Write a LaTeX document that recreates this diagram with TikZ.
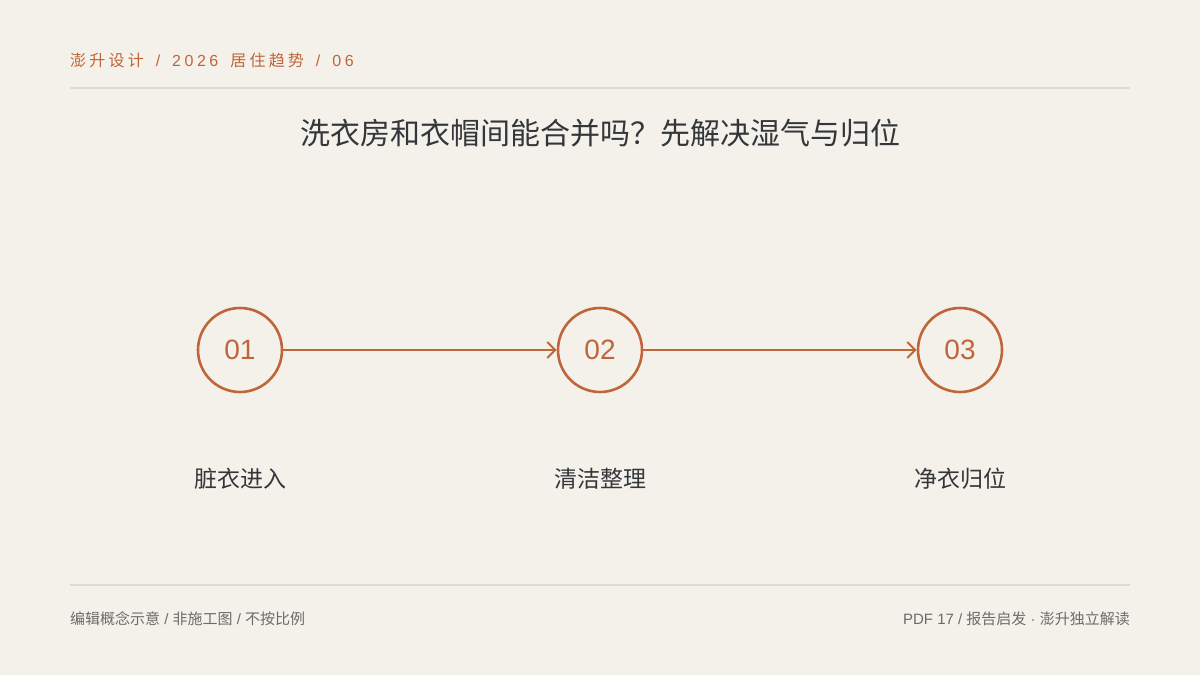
\documentclass[tikz,border=0pt]{standalone}
\usepackage{fontspec}
\setmainfont{Liberation Sans}
\newfontfamily\cjk{Noto Sans CJK SC}
\newfontfamily\cjksp[LetterSpace=20]{Noto Sans CJK SC}
\newfontfamily\latsp[LetterSpace=22]{Liberation Sans}
\usetikzlibrary{arrows.meta}
\definecolor{bg}{HTML}{F4F1EA}
\definecolor{accent}{HTML}{C0653A}
\definecolor{rule}{HTML}{DEDAD3}
\definecolor{ink}{HTML}{33373A}
\definecolor{muted}{HTML}{6B6B68}
\newcommand\cj[1]{{\cjk #1}}
\newcommand\hsp{\hspace{12pt}}
\tikzset{
  stepcircle/.style={circle,draw=accent,line width=2.6pt,minimum size=84pt,inner sep=0pt,
    text=accent,font=\fontsize{28}{30}\selectfont},
  steplabel/.style={text=ink,font=\cjk\fontsize{23}{25}\selectfont,inner sep=0pt},
  flow/.style={draw=accent,line width=2.8pt,-{Straight Barb[length=8pt,width=16pt,line width=2pt]}},
  hrule/.style={draw=rule,line width=2pt},
  foot/.style={text=muted,font=\fontsize{15}{17}\selectfont,inner sep=0pt}
}
\begin{document}
\begin{tikzpicture}[x=1pt,y=-1pt]
\fill[bg] (0,0) rectangle (1200,675);
\useasboundingbox (0,0) rectangle (1200,675);
\node[anchor=west,inner sep=0pt,text=accent,font=\fontsize{16}{18}\selectfont] (hdr) at (70,60)
  {{\cjksp 澎升设计}\hsp{\latsp /}\hsp{\latsp 2026}\hsp{\cjksp 居住趋势}\hsp{\latsp /}\hsp{\latsp 06}};
\coordinate (t1) at (70,88); \coordinate (t2) at (1130,88);
\draw[hrule] (t1) -- (t2);
\node[inner sep=0pt,text=ink,font=\cjk\fontsize{30}{32}\selectfont] (title) at (600,133) {洗衣房和衣帽间能合并吗？先解决湿气与归位};
\node[stepcircle] (c1) at (240,350) {01};
\node[stepcircle] (c2) at (600,350) {02};
\node[stepcircle] (c3) at (960,350) {03};
\draw[flow] (c1) -- (c2);
\draw[flow] (c2) -- (c3);
\node[steplabel] (l1) at (240,479) {脏衣进入};
\node[steplabel] (l2) at (600,479) {清洁整理};
\node[steplabel] (l3) at (960,479) {净衣归位};
\coordinate (b1) at (70,585); \coordinate (b2) at (1130,585);
\draw[hrule] (b1) -- (b2);
\node[foot,anchor=west] (f1) at (70,619) {\cj{编辑概念示意} / \cj{非施工图} / \cj{不按比例}};
\node[foot,anchor=east] (f2) at (1130,619) {PDF 17 / \cj{报告启发} · \cj{澎升独立解读}};
\end{tikzpicture}
\end{document}
